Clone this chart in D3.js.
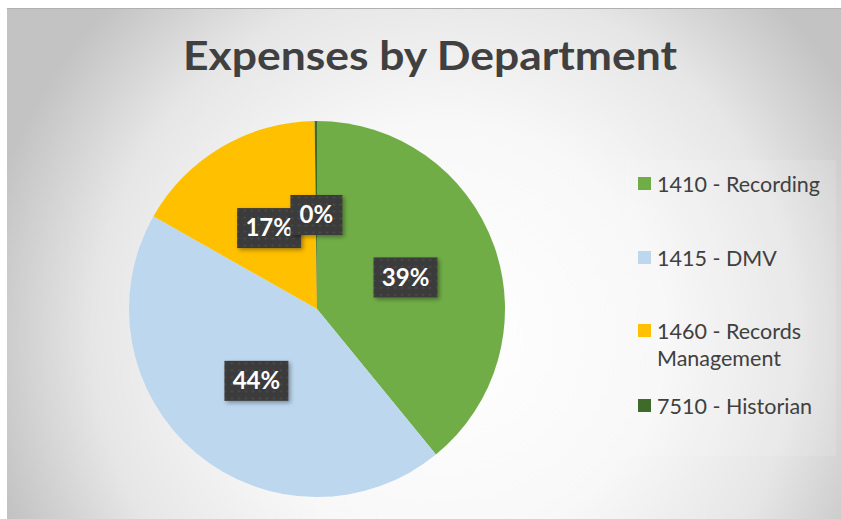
<!DOCTYPE html>
<html>
<head>
<meta charset="utf-8">
<script src="https://cdn.jsdelivr.net/npm/d3@7"></script>
<style>
  body { margin: 0; background: #fff; }
  svg { display: block; }
</style>
</head>
<body>
<div id="chart"></div>
<script>
// chart data
const departments = ['1410 - Recording', '1415 - DMV', '1460 - Records Management', '7510 - Historian'];
const expenses = [39.1, 44.1, 16.6, 0.2];
const colors = ['#70AD47', '#BDD7EE', '#FFC000', '#3E6A2A'];
const legendLines = [['1410 - Recording'], ['1415 - DMV'], ['1460 - Records', 'Management'], ['7510 - Historian']];

const W = 841, H = 519;
const svg = d3.select('#chart').append('svg')
    .attr('width', W)
    .attr('height', H);

const defs = svg.append('defs');
const grad = defs.append('radialGradient')
    .attr('id', 'bg')
    .attr('gradientUnits', 'userSpaceOnUse')
    .attr('cx', 445).attr('cy', 335).attr('r', 470);
grad.append('stop').attr('offset', '0%').attr('stop-color', '#ffffff');
grad.append('stop').attr('offset', '45%').attr('stop-color', '#f8f8f8');
grad.append('stop').attr('offset', '75%').attr('stop-color', '#e6e6e6');
grad.append('stop').attr('offset', '100%').attr('stop-color', '#c3c3c3');

const dots = defs.append('pattern')
    .attr('id', 'dots')
    .attr('width', 7).attr('height', 7)
    .attr('patternUnits', 'userSpaceOnUse');
dots.append('rect').attr('width', 7).attr('height', 7).attr('fill', '#3b3b3b');
dots.append('circle').attr('cx', 3.5).attr('cy', 3.5).attr('r', 1.1).attr('fill', '#4e4e4e');

const shadow = defs.append('filter').attr('id', 'shadow')
    .attr('x', '-20%').attr('y', '-20%').attr('width', '150%').attr('height', '150%');
shadow.append('feDropShadow')
    .attr('dx', 2).attr('dy', 2).attr('stdDeviation', 2)
    .attr('flood-color', '#000').attr('flood-opacity', 0.35);

// chart area
svg.append('rect')
    .attr('x', 7).attr('y', 8)
    .attr('width', W - 7).attr('height', H - 8)
    .attr('fill', 'url(#bg)');
svg.append('line')
    .attr('x1', 7).attr('x2', W).attr('y1', 8.5).attr('y2', 8.5)
    .attr('stroke', '#b0b0b0').attr('stroke-width', 1);

// title
svg.append('text')
    .attr('x', 430).attr('y', 70)
    .attr('text-anchor', 'middle')
    .attr('font-family', 'Lato, "Open Sans", sans-serif')
    .attr('font-weight', 'bold')
    .attr('font-size', 40)
    .attr('fill', '#404040')
    .attr('textLength', 494)
    .attr('lengthAdjust', 'spacingAndGlyphs')
    .text('Expenses by Department');

// pie
const cx = 317, cy = 309, R = 188;
const total = d3.sum(expenses);
const pie = d3.pie().sort(null).value(d => d)(expenses);
const arc = d3.arc().innerRadius(0).outerRadius(R);
const labelArc = d3.arc().innerRadius(R / 2).outerRadius(R / 2);

const g = svg.append('g').attr('transform', `translate(${cx},${cy})`);
g.selectAll('path')
    .data(pie)
    .join('path')
    .attr('d', arc)
    .attr('fill', (d, i) => colors[i]);

const fmt = d3.format('.0%');
const labels = g.selectAll('g.lbl')
    .data(pie)
    .join('g')
    .attr('class', 'lbl')
    .attr('transform', d => `translate(${labelArc.centroid(d)})`);

labels.each(function (d) {
    const sel = d3.select(this);
    const txt = fmt(d.value / total);
    const bw = txt.length > 2 ? 64 : 52;
    sel.append('rect')
        .attr('x', -bw / 2).attr('y', -20)
        .attr('width', bw).attr('height', 40)
        .attr('fill', 'url(#dots)')
        .attr('filter', 'url(#shadow)');
    sel.append('text')
        .attr('text-anchor', 'middle')
        .attr('dy', '0.35em')
        .attr('font-family', 'Lato, "Open Sans", sans-serif')
        .attr('font-weight', 'bold')
        .attr('font-size', 24)
        .attr('fill', '#ffffff')
        .text(txt);
});

// legend
const legend = svg.append('g');
legend.append('rect')
    .attr('x', 626).attr('y', 160)
    .attr('width', 210).attr('height', 296)
    .attr('fill', '#ffffff').attr('opacity', 0.12);

const legendTop = [184, 258, 331, 406];

const items = legend.selectAll('g.item')
    .data(departments)
    .join('g')
    .attr('class', 'item')
    .attr('transform', (d, i) => `translate(638,${legendTop[i]})`);

items.append('rect')
    .attr('x', 0).attr('y', -7)
    .attr('width', 13).attr('height', 13)
    .attr('fill', (d, i) => colors[i]);

items.append('text')
    .attr('font-family', 'Lato, "Open Sans", sans-serif')
    .attr('font-size', 21.5)
    .attr('fill', '#404040')
    .each(function (d, i) {
        const t = d3.select(this);
        legendLines[i].forEach((line, j) => {
            t.append('tspan')
                .attr('x', 19)
                .attr('y', j * 27)
                .attr('dy', '0.35em')
                .text(line);
        });
    });
</script>
</body>
</html>
